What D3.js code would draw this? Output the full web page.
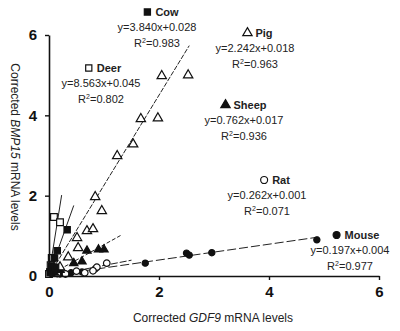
<!DOCTYPE html>
<html>
<head>
<meta charset="utf-8">
<script src="https://cdn.jsdelivr.net/npm/d3@7"></script>
<style>
  body { margin: 0; background: #fff; }
  svg { display: block; font-family: "Liberation Sans", Arial, sans-serif; }
</style>
</head>
<body>
<div id="chart"></div>
<script>
// values
const xTicks = [0, 2, 4, 6];
const yTicks = [0, 2, 4, 6];

const cowPts = [[0.02, 0.08], [0.05, 0.25], [0.12, 0.22], [0.15, 0.63], [0.33, 1.15], [0.1, 0.45]];
const deerPts = [[0.09, 1.47], [0.2, 1.34], [0.05, 0.45], [0.03, 0.27], [0.02, 0.1], [0.0, 0.05], [0.07, 0.2]];
const pigPts = [[2.05, 4.98], [2.53, 5.0], [1.67, 3.91], [1.98, 3.93], [1.53, 3.28], [1.24, 2.99],
  [0.84, 1.97], [0.96, 1.62], [0.69, 1.12], [0.8, 1.17], [0.51, 0.95], [0.53, 0.7], [0.35, 0.47], [0.2, 0.22]];
const sheepPts = [[0.69, 0.63], [0.9, 0.66], [1.0, 0.66], [0.6, 0.36], [0.45, 0.32], [0.2, 0.15], [0.1, 0.08]];
const ratPts = [[0.87, 0.22], [1.05, 0.32], [0.5, 0.12], [0.3, 0.05], [0.15, 0.06], [0.65, 0.08], [0.8, 0.13]];
const mousePts = [[1.75, 0.32], [2.5, 0.57], [2.55, 0.52], [2.96, 0.58], [4.87, 0.9], [0.84, 0.18], [0.4, 0.08], [0.2, 0.05], [0.6, 0.1]];

const species = ["Cow", "Deer", "Pig", "Sheep", "Rat", "Mouse"];
const slopes = [3.840, 8.563, 2.242, 0.762, 0.262, 0.197];
const intercepts = [0.028, 0.045, 0.018, 0.017, 0.001, 0.004];
const r2 = ["0.983", "0.802", "0.963", "0.936", "0.071", "0.977"];
const lineEnds = [0.45, 0.23, 2.55, 1.3, 1.5, 4.9];

const W = 400, H = 331;
const svg = d3.select("#chart").append("svg").attr("width", W).attr("height", H);

const x = d3.scaleLinear().domain([0, 6]).range([49, 379]);
const y = d3.scaleLinear().domain([0, 6]).range([276, 35]);

// styles per species
const styles = {
  Cow:   { sym: d3.symbolSquare, fill: "#111", dash: null, pts: cowPts },
  Deer:  { sym: d3.symbolSquare, fill: "#fff", dash: null, pts: deerPts },
  Pig:   { sym: d3.symbolTriangle, fill: "#fff", dash: "5,1.5", pts: pigPts },
  Sheep: { sym: d3.symbolTriangle, fill: "#111", dash: "4,2", pts: sheepPts },
  Rat:   { sym: d3.symbolCircle, fill: "#fff", dash: "7,2", pts: ratPts },
  Mouse: { sym: d3.symbolCircle, fill: "#111", dash: "9,3", pts: mousePts }
};
const symSize = { Cow: 40, Deer: 45, Pig: 38, Sheep: 30, Rat: 34, Mouse: 30 };

// regression lines
const lineG = svg.append("g");
species.forEach((s, i) => {
  lineG.append("line")
    .attr("x1", x(0)).attr("y1", y(intercepts[i]))
    .attr("x2", x(lineEnds[i])).attr("y2", y(slopes[i] * lineEnds[i] + intercepts[i]))
    .attr("stroke", "#222").attr("stroke-width", 1)
    .attr("stroke-dasharray", styles[s].dash);
});

// points
const ptG = svg.append("g");
species.slice().reverse().forEach(s => {
  ptG.selectAll(null).data(styles[s].pts).enter().append("path")
    .attr("d", d3.symbol().type(styles[s].sym).size(symSize[s]))
    .attr("transform", d => `translate(${x(d[0])},${y(d[1])})`)
    .attr("fill", styles[s].fill)
    .attr("stroke", "#111").attr("stroke-width", 1.2);
});

// axes
const xAxis = svg.append("g").attr("transform", `translate(0,${y(0)})`)
  .call(d3.axisBottom(x).tickValues(xTicks).tickFormat(d3.format("d")).tickSize(4).tickPadding(6).tickSizeOuter(0));
const yAxis = svg.append("g").attr("transform", `translate(${x(0)},0)`)
  .call(d3.axisLeft(y).tickValues(yTicks).tickFormat(d3.format("d")).tickSize(4).tickPadding(8).tickSizeOuter(0));
[xAxis, yAxis].forEach(a => {
  a.select(".domain").attr("stroke", "#111").attr("stroke-width", 1.6);
  a.selectAll(".tick line").attr("stroke", "#111").attr("stroke-width", 1.4);
  a.selectAll("text").attr("fill", "#111").style("font-size", "15px").style("font-weight", "bold")
    .style("font-family", "'Liberation Sans', Arial, sans-serif");
});
xAxis.selectAll(".tick").filter(d => d === 0).select("line").remove();
yAxis.selectAll(".tick").filter(d => d === 0).select("line").remove();

// axis titles
const xt = svg.append("text").attr("x", 213).attr("y", 322).attr("text-anchor", "middle")
  .style("font-size", "12px").attr("fill", "#222");
xt.append("tspan").text("Corrected ");
xt.append("tspan").style("font-style", "italic").text("GDF9");
xt.append("tspan").text(" mRNA levels");

const yt = svg.append("text").attr("transform", "translate(11,147) rotate(90)").attr("text-anchor", "middle")
  .style("font-size", "12px").attr("fill", "#222");
yt.append("tspan").text("Corrected ");
yt.append("tspan").style("font-style", "italic").text("BMP15");
yt.append("tspan").text(" mRNA levels");

// annotations: [cx for name, y of name line, cx for formula]
const annoPos = {
  Cow:   [162, 16, 157],
  Deer:  [104, 72, 101],
  Pig:   [259, 37, 255],
  Sheep: [245, 109, 244],
  Rat:   [276, 184, 267],
  Mouse: [357, 239, 350]
};
species.forEach((s, i) => {
  const [nx, ny, fx] = annoPos[s];
  const g = svg.append("g").attr("fill", "#222").style("font-size", "11px");
  const name = g.append("text").attr("x", nx + 5).attr("y", ny).attr("text-anchor", "middle")
    .style("font-weight", "bold").text(s);
  const tw = name.node().getComputedTextLength();
  g.append("path")
    .attr("d", d3.symbol().type(styles[s].sym).size(38))
    .attr("transform", `translate(${nx + 5 - tw / 2 - 8},${ny - 4})`)
    .attr("fill", styles[s].fill).attr("stroke", "#111").attr("stroke-width", 1.2);
  g.append("text").attr("x", fx).attr("y", ny + 15).attr("text-anchor", "middle")
    .text(`y=${slopes[i].toFixed(3)}x+${intercepts[i].toFixed(3)}`);
  const r = g.append("text").attr("x", fx).attr("y", ny + 31).attr("text-anchor", "middle");
  r.append("tspan").text("R");
  r.append("tspan").attr("dy", -4).style("font-size", "7px").text("2");
  r.append("tspan").attr("dy", 4).text("=" + r2[i]);
});
</script>
</body>
</html>
